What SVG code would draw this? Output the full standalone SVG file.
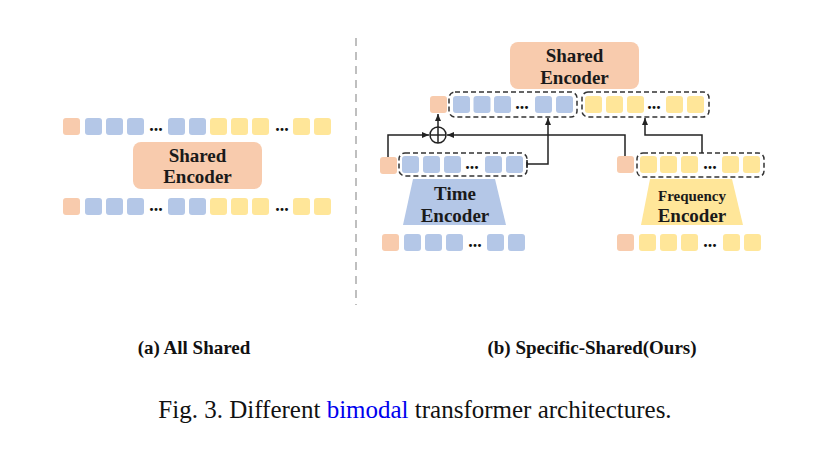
<svg xmlns="http://www.w3.org/2000/svg" width="815" height="455" viewBox="0 0 815 455">
<style>
.s{fill:#F8CBAD}
.b{fill:#B4C7E7}
.y{fill:#FFE699}
.sq{rx:3;ry:3}
.lbl{font-family:"Liberation Serif",serif;font-weight:bold;fill:#1a1a1a;text-anchor:middle}
.dots{font-family:"Liberation Serif",serif;font-weight:bold;font-size:18px;fill:#111;text-anchor:middle}
.dash{fill:none;stroke:#333;stroke-width:1.5;stroke-dasharray:5 3}
.ln{fill:none;stroke:#222;stroke-width:1.5}
.cap{font-family:"Liberation Serif",serif;font-weight:bold;font-size:19px;fill:#111;text-anchor:middle}
</style>
<defs>
<marker id="ah" markerUnits="userSpaceOnUse" markerWidth="8" markerHeight="8" viewBox="0 0 8 8" refX="7" refY="4" orient="auto">
<path d="M0,1 L7,4 L0,7 Z" fill="#222"/>
</marker>
</defs>
<rect width="815" height="455" fill="#fff"/>

<!-- divider -->
<line x1="356" y1="38" x2="356" y2="305" stroke="#aaa" stroke-width="1.5" stroke-dasharray="8 6"/>

<!-- Panel (a) -->
<g id="a-top-tokens">
<rect class="s sq" x="63" y="118" width="17" height="17"/>
<rect class="b sq" x="85" y="118" width="17" height="17"/>
<rect class="b sq" x="106" y="118" width="17" height="17"/>
<rect class="b sq" x="127" y="118" width="17" height="17"/>
<text class="dots" x="156" y="131">...</text>
<rect class="b sq" x="168" y="118" width="17" height="17"/>
<rect class="b sq" x="189" y="118" width="17" height="17"/>
<rect class="y sq" x="210" y="118" width="17" height="17"/>
<rect class="y sq" x="231" y="118" width="17" height="17"/>
<rect class="y sq" x="252" y="118" width="17" height="17"/>
<text class="dots" x="282" y="131">...</text>
<rect class="y sq" x="293" y="118" width="17" height="17"/>
<rect class="y sq" x="314" y="118" width="17" height="17"/>
</g>
<g id="a-shared-encoder">
<rect class="s" x="133" y="142" width="129" height="47" rx="8"/>
<text class="lbl" x="197.5" y="162" font-size="19">Shared</text>
<text class="lbl" x="197.5" y="183" font-size="19">Encoder</text>
</g>
<g id="a-bottom-tokens">
<rect class="s sq" x="63" y="198" width="17" height="17"/>
<rect class="b sq" x="85" y="198" width="17" height="17"/>
<rect class="b sq" x="106" y="198" width="17" height="17"/>
<rect class="b sq" x="127" y="198" width="17" height="17"/>
<text class="dots" x="156" y="211">...</text>
<rect class="b sq" x="168" y="198" width="17" height="17"/>
<rect class="b sq" x="189" y="198" width="17" height="17"/>
<rect class="y sq" x="210" y="198" width="17" height="17"/>
<rect class="y sq" x="231" y="198" width="17" height="17"/>
<rect class="y sq" x="252" y="198" width="17" height="17"/>
<text class="dots" x="282" y="211">...</text>
<rect class="y sq" x="293" y="198" width="17" height="17"/>
<rect class="y sq" x="314" y="198" width="17" height="17"/>
</g>

<!-- Panel (b) -->
<g id="b-shared-encoder">
<rect class="s" x="510" y="42" width="129" height="47" rx="8"/>
<text class="lbl" x="574.5" y="61.5" font-size="19">Shared</text>
<text class="lbl" x="574.5" y="84" font-size="19">Encoder</text>
</g>
<g id="b-shared-tokens">
<rect class="s sq" x="430" y="96" width="17" height="17"/>
<rect class="dash" x="449" y="92" width="128" height="25" rx="6"/>
<rect class="b sq" x="453" y="96" width="17" height="17"/>
<rect class="b sq" x="473.5" y="96" width="17" height="17"/>
<rect class="b sq" x="494" y="96" width="17" height="17"/>
<text class="dots" x="522" y="109">...</text>
<rect class="b sq" x="535" y="96" width="17" height="17"/>
<rect class="b sq" x="556" y="96" width="17" height="17"/>
<rect class="dash" x="582" y="92" width="127" height="25" rx="6"/>
<rect class="y sq" x="585" y="96" width="17" height="17"/>
<rect class="y sq" x="606" y="96" width="17" height="17"/>
<rect class="y sq" x="627" y="96" width="17" height="17"/>
<text class="dots" x="654" y="109">...</text>
<rect class="y sq" x="666" y="96" width="17" height="17"/>
<rect class="y sq" x="687" y="96" width="17" height="17"/>
</g>
<g id="b-time-out">
<rect class="s sq" x="380" y="157" width="17" height="17"/>
<rect class="dash" x="399" y="153" width="128" height="23" rx="6"/>
<rect class="b sq" x="402" y="156" width="17" height="17"/>
<rect class="b sq" x="423" y="156" width="17" height="17"/>
<rect class="b sq" x="444" y="156" width="17" height="17"/>
<text class="dots" x="472" y="169">...</text>
<rect class="b sq" x="485" y="156" width="17" height="17"/>
<rect class="b sq" x="506" y="156" width="17" height="17"/>
</g>
<g id="b-freq-out">
<rect class="s sq" x="617" y="156" width="17" height="17"/>
<rect class="dash" x="637" y="153" width="127" height="24" rx="6"/>
<rect class="y sq" x="640" y="156" width="17" height="17"/>
<rect class="y sq" x="660" y="156" width="17" height="17"/>
<rect class="y sq" x="681" y="156" width="17" height="17"/>
<text class="dots" x="710" y="169">...</text>
<rect class="y sq" x="722" y="156" width="17" height="17"/>
<rect class="y sq" x="743" y="156" width="17" height="17"/>
</g>
<g id="b-time-encoder">
<polygon class="b" points="413,179 495,179 506,225 403,225"/>
<text class="lbl" x="455" y="200" font-size="19">Time</text>
<text class="lbl" x="455" y="222" font-size="19">Encoder</text>
</g>
<g id="b-freq-encoder">
<polygon class="y" points="650,179 732,179 743,225 641,225"/>
<text class="lbl" x="692" y="201" font-size="15">Frequency</text>
<text class="lbl" x="692" y="222" font-size="19">Encoder</text>
</g>
<g id="b-time-in">
<rect class="s sq" x="382" y="234" width="17" height="17"/>
<rect class="b sq" x="404" y="234" width="17" height="17"/>
<rect class="b sq" x="425" y="234" width="17" height="17"/>
<rect class="b sq" x="446" y="234" width="17" height="17"/>
<text class="dots" x="475" y="247">...</text>
<rect class="b sq" x="487" y="234" width="17" height="17"/>
<rect class="b sq" x="508" y="234" width="17" height="17"/>
</g>
<g id="b-freq-in">
<rect class="s sq" x="617" y="234" width="17" height="17"/>
<rect class="y sq" x="639" y="234" width="17" height="17"/>
<rect class="y sq" x="660" y="234" width="17" height="17"/>
<rect class="y sq" x="681" y="234" width="17" height="17"/>
<text class="dots" x="710" y="247">...</text>
<rect class="y sq" x="723" y="234" width="17" height="17"/>
<rect class="y sq" x="744" y="234" width="17" height="17"/>
</g>
<g id="b-add">
<circle cx="438" cy="135" r="8" fill="#fff" stroke="#222" stroke-width="1.5"/>
<line x1="430" y1="135" x2="446" y2="135" stroke="#222" stroke-width="1.5"/>
<line x1="438" y1="127" x2="438" y2="143" stroke="#222" stroke-width="1.5"/>
</g>
<g id="connectors">
<polyline class="ln" points="388,157 388,135 429,135" marker-end="url(#ah)"/>
<polyline class="ln" points="625,156 625,135 447,135" marker-end="url(#ah)"/>
<line class="ln" x1="438" y1="127" x2="438" y2="114" marker-end="url(#ah)"/>
<polyline class="ln" points="527,164 548,164 548,118" marker-end="url(#ah)"/>
<line class="ln" x1="527" y1="160" x2="527" y2="168"/>
<polyline class="ln" points="702,153 702,135 645,135 645,118" marker-end="url(#ah)"/>
</g>

<text class="cap" x="194" y="354">(a) All Shared</text>
<text class="cap" x="592" y="354">(b) Specific-Shared(Ours)</text>
<text x="415" y="418" font-family="'Liberation Serif',serif" font-size="25" fill="#111" text-anchor="middle">Fig. 3. Different <tspan fill="#0000ee">bimodal</tspan> transformer architectures.</text>
</svg>
